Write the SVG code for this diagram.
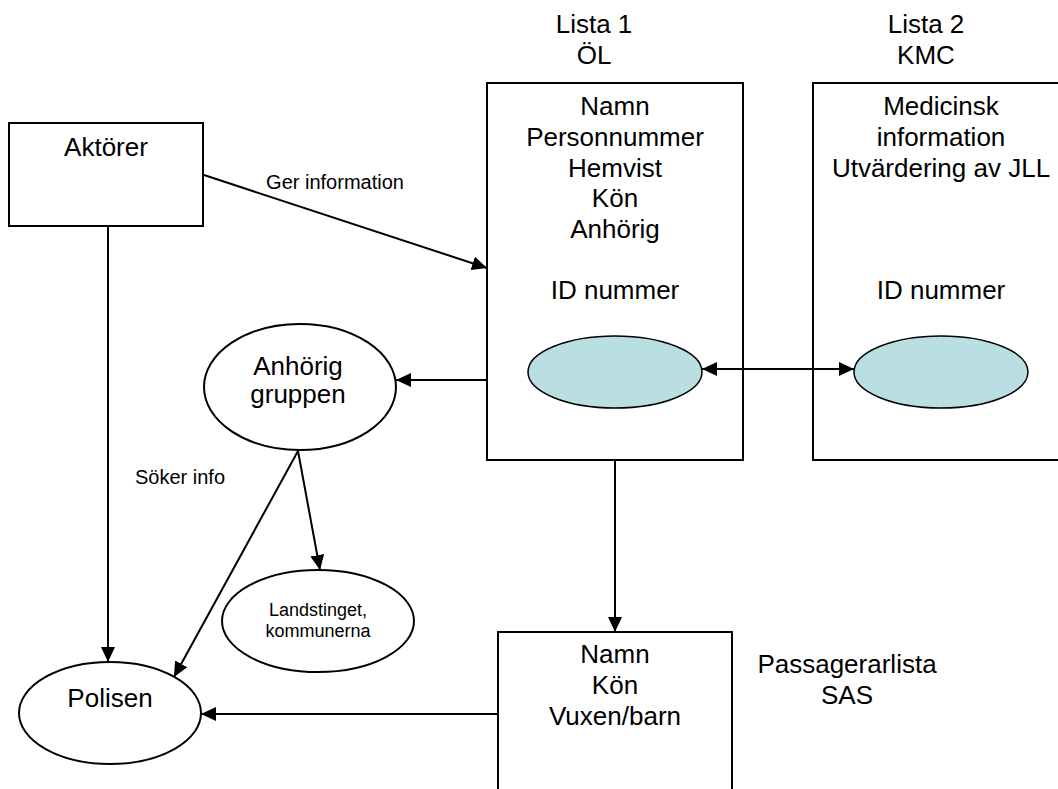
<svg xmlns="http://www.w3.org/2000/svg" width="1058" height="789" viewBox="0 0 1058 789">
<defs>
<style>
.box{fill:#fff;stroke:#000;stroke-width:2}
.ell{fill:#fff;stroke:#000;stroke-width:2}
.id{fill:#B9DFE3;stroke:#000;stroke-width:1.5}
.big{font-family:"Liberation Sans",Arial,sans-serif;font-size:26px;fill:#000;text-anchor:middle}
.small{font-family:"Liberation Sans",Arial,sans-serif;font-size:20px;fill:#000;text-anchor:middle}
.lt{font-family:"Liberation Sans",Arial,sans-serif;font-size:18px;fill:#000;text-anchor:middle}
.con line{stroke:#000;stroke-width:2;fill:none}
</style>
<marker id="a" viewBox="0 0 15 14" refX="15" refY="7" markerWidth="15" markerHeight="14" markerUnits="userSpaceOnUse" orient="auto-start-reverse">
<path d="M0,0 L15,7 L0,14 z" fill="#000"/>
</marker>
</defs>
<rect width="1058" height="789" fill="#fff"/>
<g id="aktorer"><rect class="box" x="9" y="123" width="194" height="103"/><text class="big" x="106" y="156">Aktörer</text></g>
<g id="lista1-title"><text class="big" x="594" y="33">Lista 1</text><text class="big" x="594" y="64">ÖL</text></g>
<g id="lista2-title"><text class="big" x="926" y="33">Lista 2</text><text class="big" x="926" y="64">KMC</text></g>
<g id="lista1"><rect class="box" x="487" y="83" width="256" height="377"/>
<text class="big" x="615"><tspan x="615" y="115">Namn</tspan><tspan x="615" y="146">Personnummer</tspan><tspan x="615" y="177">Hemvist</tspan><tspan x="615" y="207">Kön</tspan><tspan x="615" y="238">Anhörig</tspan><tspan x="615" y="299">ID nummer</tspan></text>
<ellipse class="id" cx="615" cy="372" rx="87" ry="36"/></g>
<g id="lista2"><rect class="box" x="813" y="83" width="260" height="377"/>
<text class="big" x="941"><tspan x="941" y="115">Medicinsk</tspan><tspan x="941" y="146">information</tspan><tspan x="941" y="177">Utvärdering av JLL</tspan><tspan x="941" y="299">ID nummer</tspan></text>
<ellipse class="id" cx="941" cy="372" rx="87" ry="36"/></g>
<g id="anhorig"><ellipse class="ell" cx="300" cy="387" rx="96" ry="63"/><text class="big" x="298"><tspan x="298" y="375">Anhörig</tspan><tspan x="298" y="403">gruppen</tspan></text></g>
<g id="landstinget"><ellipse class="ell" cx="318" cy="621" rx="96" ry="51"/><text class="lt" x="318"><tspan x="318" y="616">Landstinget,</tspan><tspan x="318" y="637">kommunerna</tspan></text></g>
<g id="polisen"><ellipse class="ell" cx="110" cy="713" rx="91" ry="51"/><text class="big" x="110" y="707">Polisen</text></g>
<g id="sas"><rect class="box" x="498" y="632" width="234" height="180"/>
<text class="big" x="615"><tspan x="615" y="663">Namn</tspan><tspan x="615" y="694">Kön</tspan><tspan x="615" y="725">Vuxen/barn</tspan></text></g>
<g id="sas-label"><text class="big" x="847"><tspan x="847" y="673">Passagerarlista</tspan><tspan x="847" y="704">SAS</tspan></text></g>
<g id="connectors" class="con">
<line x1="204" y1="175" x2="487" y2="268" marker-end="url(#a)"/>
<line x1="108" y1="226" x2="108" y2="662" marker-end="url(#a)"/>
<line x1="487" y1="380" x2="396" y2="380" marker-end="url(#a)"/>
<line x1="702" y1="369" x2="854" y2="369" marker-start="url(#a)" marker-end="url(#a)"/>
<line x1="298" y1="451" x2="320" y2="570" marker-end="url(#a)"/>
<line x1="298" y1="451" x2="174" y2="677" marker-end="url(#a)"/>
<line x1="615" y1="460" x2="615" y2="632" marker-end="url(#a)"/>
<line x1="498" y1="714" x2="201" y2="714" marker-end="url(#a)"/>
<text class="small" x="335" y="189">Ger information</text>
<text class="small" x="180" y="484">Söker info</text>
</g>
</svg>
